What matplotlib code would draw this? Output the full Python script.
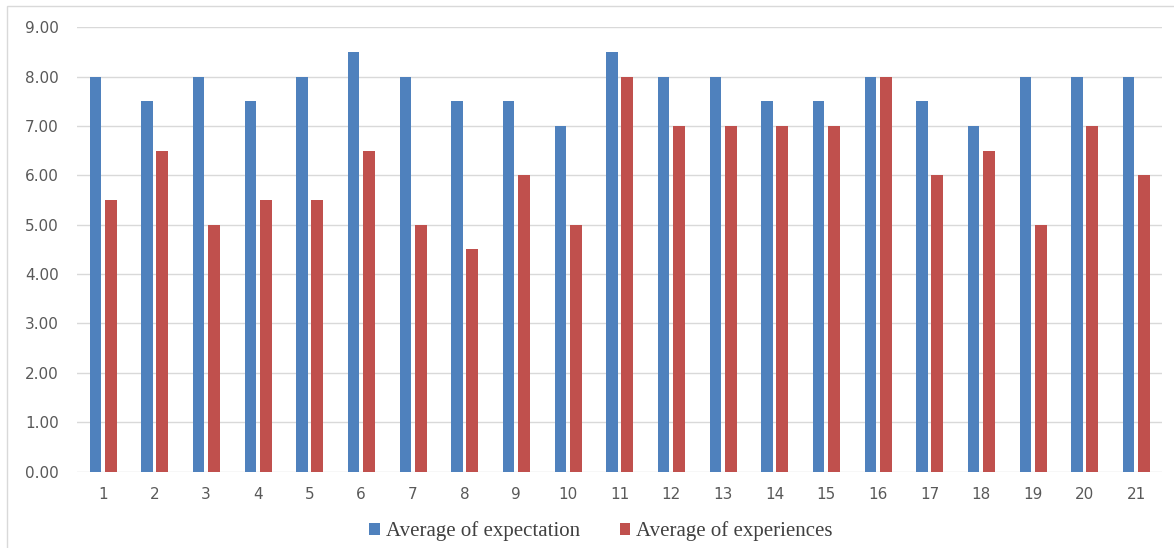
import matplotlib.pyplot as plt
import numpy as np
from matplotlib.patches import Rectangle

# Per-item averages, expectation vs experience
items = [str(i) for i in range(1, 22)]
expectation = [8.0, 7.5, 8.0, 7.5, 8.0, 8.5, 8.0, 7.5, 7.5, 7.0, 8.5,
               8.0, 8.0, 7.5, 7.5, 8.0, 7.5, 7.0, 8.0, 8.0, 8.0]
experiences = [5.5, 6.5, 5.0, 5.5, 5.5, 6.5, 5.0, 4.5, 6.0, 5.0, 8.0,
               7.0, 7.0, 7.0, 7.0, 8.0, 6.0, 6.5, 5.0, 7.0, 6.0]
yticks = np.arange(0, 9.01, 1.0)

fig = plt.figure(figsize=(11.74, 5.48), dpi=100)
ax = fig.add_axes([0.0656, 0.1395, 0.9242, 0.811])

x = np.arange(len(items))
ax.bar(x - 0.148, expectation, width=0.22, color='#4F81BD',
       label='Average of expectation', zorder=3)
ax.bar(x + 0.152, experiences, width=0.23, color='#C0504D',
       label='Average of experiences', zorder=3)

ax.set_xlim(-0.5, len(items) - 0.5)
ax.set_ylim(0, 9)
ax.set_xticks(x)
ax.set_xticklabels(items)
ax.set_yticks(yticks)
ax.set_yticklabels([f'{v:.2f}' for v in yticks])
ax.tick_params(axis='both', length=0, colors='#595959', labelsize=11)
ax.tick_params(axis='x', pad=11)
ax.tick_params(axis='y', pad=13)
for lab in ax.get_xticklabels() + ax.get_yticklabels():
    lab.set_fontfamily('DejaVu Sans')

ax.grid(axis='y', color='#D9D9D9', linewidth=1, zorder=0)
for s in ax.spines.values():
    s.set_visible(False)

leg = fig.legend(loc='center', bbox_to_anchor=(0.512, 0.031), ncol=2,
                 frameon=False, handlelength=0.5, handleheight=0.5,
                 handletextpad=0.3, columnspacing=1.9,
                 prop={'family': 'Liberation Serif', 'size': 15})
for t in leg.get_texts():
    t.set_color('#404040')

# Light outer frame around the chart
fig.patches.append(Rectangle((7 / 1174, -0.05), 1.2, 1 - 6 / 548 + 0.05,
                             transform=fig.transFigure, fill=False,
                             edgecolor='#D9D9D9', linewidth=1))

fig.savefig('out.png', dpi=100)
